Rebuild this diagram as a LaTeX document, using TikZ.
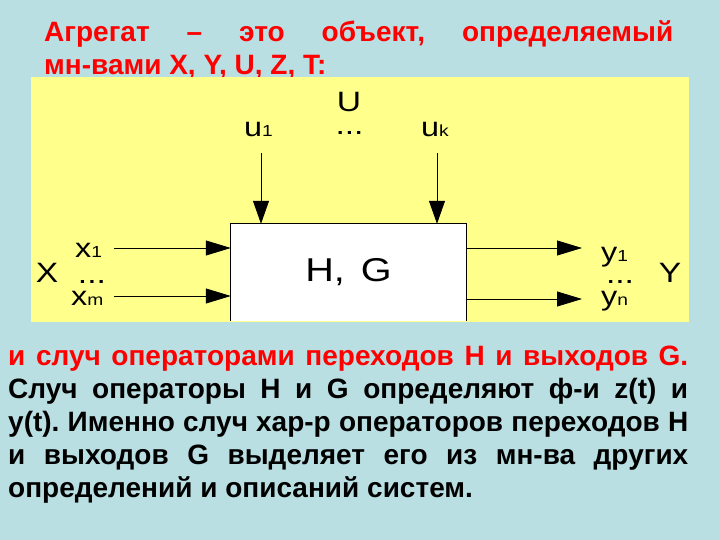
\documentclass[tikz,border=0pt]{standalone}
\usepackage{fontspec}
\setmainfont{Liberation Sans}
\newfontfamily\dgm[FakeStretch=1.2]{Liberation Sans}
\usetikzlibrary{arrows.meta}
\frenchspacing
\definecolor{bgblue}{RGB}{186,223,227}
\definecolor{padyellow}{RGB}{255,255,140}
\definecolor{txtred}{RGB}{255,0,0}
\newcommand{\fs}[1]{\fontsize{#1pt}{#1pt}\selectfont}
\newcommand{\sublbl}[2]{{\dgm\fs{27}#1\fs{16}#2}}
\tikzset{
  txt/.style={inner sep=0pt, anchor=base west},
  lbl/.style={inner sep=0pt, anchor=base},
  para/.style={txt, font=\fs{28}\bfseries},
  arr/.style={line width=0.8pt, -{Triangle[length=25pt,width=15pt]}},
  varr/.style={line width=0.8pt, -{Triangle[length=23pt,width=16pt]}},
}
\begin{document}
\begin{tikzpicture}[x=1pt,y=-1pt]
\fill[bgblue] (0,0) rectangle (720,540);
\useasboundingbox (0,0) rectangle (720,540);
% title
\node[para, text=txtred] (t1) at (44,42) {\makebox[629pt][s]{Агрегат – это объект, определяемый}};
\node[para, text=txtred] (t2) at (44,75) {мн-вами X, Y, U, Z, T:};
% yellow panel
\fill[padyellow] (31,77) rectangle (689,322);
% box
\node[fill=white, inner sep=0pt, minimum width=235pt, minimum height=97pt, font=\dgm\fs{33}] (box) at (348.5,272.5) {H,\kern5pt\ G};
\draw[line width=0.8pt] (box.south west) -- (box.north west) -- (box.north east) -- (box.south east);
% top labels
\node[lbl, font=\dgm\fs{28}] (U) at (349,112) {U};
\node[lbl, font=\dgm\fs{28}] (udots) at (349.5,135) {...};
\node[txt] (u1) at (244,137) {\sublbl{u}{1}};
\node[txt] (uk) at (421,137) {\sublbl{u}{k}};
\coordinate (u1s) at (261,153);
\coordinate (uks) at (437,153);
\draw[varr] (u1s) -- (u1s |- box.north);
\draw[varr] (uks) -- (uks |- box.north);
% left labels
\node[lbl, font=\dgm\fs{28}] (X) at (47,282) {X};
\node[txt] (x1) at (75,258) {\sublbl{x}{1}};
\node[lbl, font=\dgm\fs{28}] (xdots) at (92,283) {...};
\node[txt] (xm) at (71,305) {\sublbl{x}{m}};
\coordinate (x1s) at (114,248);
\coordinate (xms) at (114,296);
\draw[arr] (x1s) -- (x1s -| box.west);
\draw[arr] (xms) -- (xms -| box.west);
% right labels
\node[lbl, font=\dgm\fs{28}] (Y) at (670,282) {Y};
\node[txt] (y1) at (601,261) {\sublbl{y}{1}};
\node[lbl, font=\dgm\fs{28}] (ydots) at (620,283) {...};
\node[txt] (yn) at (601,305) {\sublbl{y}{n}};
\coordinate (y1e) at (582,248);
\coordinate (yne) at (582,299);
\draw[arr] (y1e -| box.east) -- (y1e);
\draw[arr] (yne -| box.east) -- (yne);
% bottom paragraph
\node[para, text=txtred] (b1) at (8,365) {\makebox[680pt][s]{и случ операторами переходов H и выходов G.}};
\node[para] (b2) at (8,398) {\makebox[680pt][s]{Случ операторы H и G определяют ф-и z(t) и}};
\node[para] (b3) at (8,431) {\makebox[680pt][s]{y(t). Именно случ хар-р операторов переходов H}};
\node[para] (b4) at (8,464) {\makebox[680pt][s]{и выходов G выделяет его из мн-ва других}};
\node[para] (b5) at (8,497) {определений и описаний систем.};
\end{tikzpicture}
\end{document}
